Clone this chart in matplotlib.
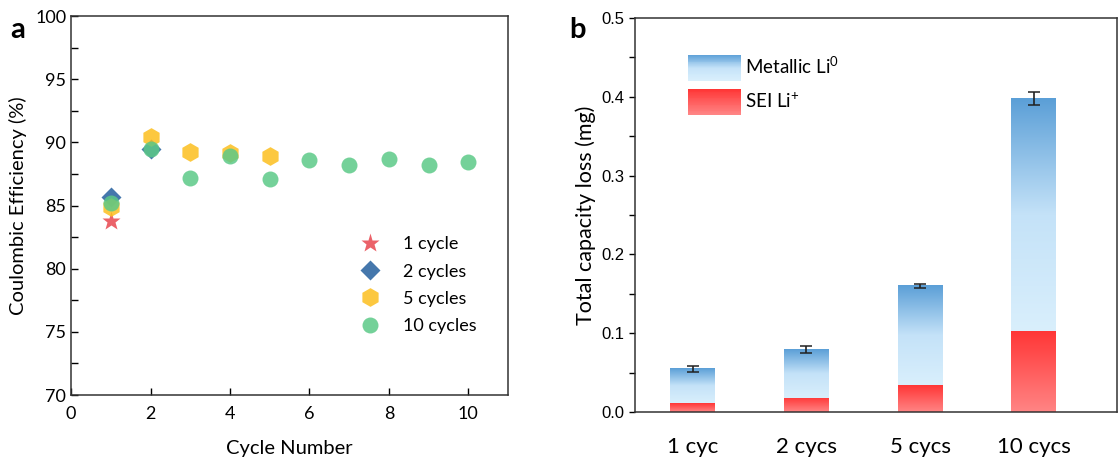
import numpy as np
import matplotlib
matplotlib.use("Agg")
import matplotlib.pyplot as plt
from matplotlib.patches import Rectangle
from matplotlib.legend_handler import HandlerBase
from matplotlib.colors import LinearSegmentedColormap
from matplotlib.ticker import MultipleLocator, FormatStrFormatter

plt.rcParams['font.family'] = ['Lato', 'DejaVu Sans']
plt.rcParams['mathtext.fontset'] = 'custom'
plt.rcParams['mathtext.rm'] = 'Lato'
plt.rcParams['mathtext.it'] = 'Lato'

# ---------------- data: panel a ----------------
ce_1cycle_x = [1]
ce_1cycle_y = [83.8]
ce_2cycles_x = [1, 2]
ce_2cycles_y = [85.65, 89.45]
ce_5cycles_x = [1, 2, 3, 4, 5]
ce_5cycles_y = [84.85, 90.4, 89.25, 89.2, 88.95]
ce_10cycles_x = [1, 2, 3, 4, 5, 6, 7, 8, 9, 10]
ce_10cycles_y = [85.2, 89.5, 87.2, 88.95, 87.12, 88.6, 88.23, 88.65, 88.2, 88.45]

# ---------------- data: panel b ----------------
categories = ['1 cyc', '2 cycs', '5 cycs', '10 cycs']
total_loss = [0.0546, 0.0795, 0.160, 0.3976]
sei_loss = [0.0114, 0.0182, 0.0338, 0.1024]
total_err = [0.0034, 0.005, 0.002, 0.008]

fig = plt.figure(figsize=(11.19, 4.62), dpi=100)

# ---------------- panel a ----------------
ax1 = fig.add_axes([0.0635, 0.145, 0.3905, 0.820])
alpha = 0.85
ax1.plot(ce_1cycle_x, ce_1cycle_y, ls='none', marker='*', ms=14, color='#e8474f',
         mec='none', alpha=alpha, label='1 cycle')
ax1.plot(ce_2cycles_x, ce_2cycles_y, ls='none', marker='D', ms=10.5, color='#245f9e',
         mec='none', alpha=alpha, label='2 cycles')
ax1.plot(ce_5cycles_x, ce_5cycles_y, ls='none', marker='h', ms=13.5, color='#fcbf1e',
         mec='none', alpha=alpha, label='5 cycles')
ax1.plot(ce_10cycles_x, ce_10cycles_y, ls='none', marker='o', ms=11.5, color='#5cc987',
         mec='none', alpha=alpha, label='10 cycles')
ax1.set_xlim(0, 11)
ax1.set_ylim(70, 100)
ax1.xaxis.set_major_locator(MultipleLocator(2))
ax1.yaxis.set_major_locator(MultipleLocator(5))
ax1.yaxis.set_minor_locator(MultipleLocator(2.5))
ax1.tick_params(which='both', direction='in', labelsize=13, length=5, width=1)
ax1.tick_params(which='minor', length=5)
ax1.tick_params(axis='x', pad=8)
for s in ax1.spines.values():
    s.set_linewidth(1.1)
    s.set_color('#333333')
ax1.set_xlabel('Cycle Number', fontsize=14.5, labelpad=13)
ax1.set_ylabel('Coulombic Efficiency (%)', fontsize=14.5, labelpad=6)
ax1.legend(loc='center left', bbox_to_anchor=(0.615, 0.29), frameon=False,
           fontsize=13, labelspacing=0.62, handletextpad=0.8, borderpad=0.2)
fig.text(0.009, 0.935, 'a', fontsize=21, fontweight='bold', ha='left', va='center')

# ---------------- panel b ----------------
ax2 = fig.add_axes([0.5675, 0.108, 0.4307, 0.853])
xpos = np.arange(1, len(categories) + 1)
metal_loss = [t - s for t, s in zip(total_loss, sei_loss)]
width = 0.395

blue_cmap = LinearSegmentedColormap.from_list('blue', ['#d9effc', '#c4e2f8', '#5b9fd7'])
red_cmap = LinearSegmentedColormap.from_list('red', ['#ff8585', '#ff3636'])

sei_bars = ax2.bar(xpos, sei_loss, width, color='none', edgecolor='none')
metal_bars = ax2.bar(xpos, metal_loss, width, bottom=sei_loss, color='none', edgecolor='none')
grad = np.linspace(0, 1, 256).reshape(-1, 1)
for bars, cmap in ((sei_bars, red_cmap), (metal_bars, blue_cmap)):
    for b in bars:
        x0, y0 = b.get_x(), b.get_y()
        ax2.imshow(grad, cmap=cmap, origin='lower', aspect='auto', interpolation='bilinear',
                   extent=(x0, x0 + b.get_width(), y0, y0 + b.get_height()), zorder=2)
ax2.errorbar(xpos, total_loss, yerr=total_err, fmt='none', ecolor='#222222',
             elinewidth=1.2, capsize=4, capthick=1.1, zorder=3)

ax2.set_xlim(0.495, 4.73)
ax2.set_ylim(0, 0.5)
ax2.set_xticks(xpos)
ax2.set_xticklabels(categories, fontsize=16)
ax2.tick_params(axis='x', length=0, pad=18)
ax2.yaxis.set_major_locator(MultipleLocator(0.1))
ax2.yaxis.set_minor_locator(MultipleLocator(0.05))
ax2.yaxis.set_major_formatter(FormatStrFormatter('%.1f'))
ax2.tick_params(axis='y', which='both', direction='out', length=4, width=1, labelsize=12)
for lbl in ax2.get_yticklabels():
    lbl.set_fontfamily('Liberation Sans')
for s in ax2.spines.values():
    s.set_linewidth(1.1)
    s.set_color('#333333')
ax2.set_ylabel('Total capacity loss (mg)', fontsize=15.5, labelpad=4)


class GradientHandler(HandlerBase):
    def __init__(self, cmap, n=30):
        super().__init__()
        self.cmap = cmap
        self.n = n

    def create_artists(self, legend, orig_handle, xdescent, ydescent, width, height,
                       fontsize, trans):
        arts = []
        h = height / self.n
        for i in range(self.n):
            c = self.cmap(i / (self.n - 1))
            r = Rectangle((-xdescent, -ydescent + i * h), width, h * 1.05,
                          facecolor=c, edgecolor='none', transform=trans)
            arts.append(r)
        return arts


h_metal = Rectangle((0, 0), 1, 1)
h_sei = Rectangle((0, 0), 1, 1)
ax2.legend([h_metal, h_sei], ['Metallic Li$^{0}$', 'SEI Li$^{+}$'],
           handler_map={h_metal: GradientHandler(blue_cmap), h_sei: GradientHandler(red_cmap)},
           loc='upper left', bbox_to_anchor=(0.075, 0.95), frameon=False, fontsize=13.5,
           handlelength=2.8, handleheight=1.75, labelspacing=0.45, handletextpad=0.25)
fig.text(0.509, 0.935, 'b', fontsize=21, fontweight='bold', ha='left', va='center')

fig.savefig('out.png', dpi=100)
